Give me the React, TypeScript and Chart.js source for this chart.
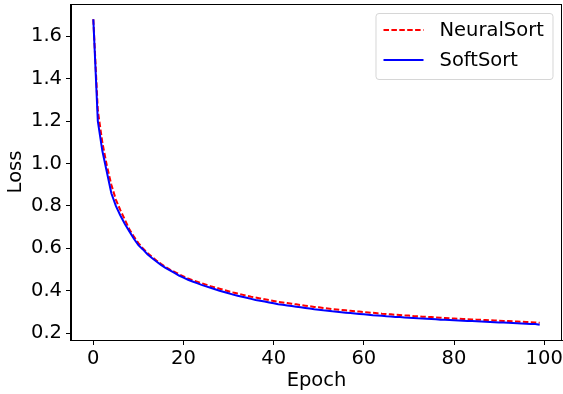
import React, { useEffect, useRef } from 'react';
import { Chart, registerables } from 'chart.js';

Chart.register(...registerables);

const epochs: number[] = Array.from({ length: 100 }, (_, i) => i);

const neuralSort: number[] = [
  1.68, 1.25, 1.10, 0.99, 0.90, 0.83, 0.78, 0.735, 0.69, 0.655,
  0.625, 0.600, 0.578, 0.560, 0.543, 0.527, 0.513, 0.500, 0.489, 0.478,
  0.468, 0.458, 0.450, 0.443, 0.436, 0.429, 0.422, 0.416, 0.410, 0.404,
  0.398, 0.392, 0.387, 0.382, 0.377, 0.372, 0.368, 0.364, 0.360, 0.356,
  0.352, 0.348, 0.345, 0.342, 0.339, 0.336, 0.333, 0.330, 0.327, 0.324,
  0.322, 0.319, 0.317, 0.314, 0.312, 0.310, 0.308, 0.306, 0.304, 0.302,
  0.300, 0.298, 0.296, 0.294, 0.292, 0.291, 0.289, 0.287, 0.286, 0.284,
  0.283, 0.281, 0.280, 0.278, 0.277, 0.276, 0.274, 0.273, 0.272, 0.270,
  0.269, 0.268, 0.267, 0.266, 0.265, 0.264, 0.263, 0.262, 0.261, 0.260,
  0.259, 0.258, 0.257, 0.256, 0.255, 0.254, 0.253, 0.252, 0.251, 0.249,
];

const softSort: number[] = [
  1.68, 1.20, 1.06, 0.96, 0.86, 0.80, 0.755, 0.715, 0.68, 0.645,
  0.615, 0.595, 0.572, 0.555, 0.538, 0.522, 0.508, 0.496, 0.484, 0.472,
  0.462, 0.452, 0.444, 0.436, 0.428, 0.421, 0.414, 0.407, 0.400, 0.394,
  0.388, 0.382, 0.377, 0.372, 0.367, 0.362, 0.357, 0.353, 0.349, 0.345,
  0.341, 0.337, 0.334, 0.331, 0.328, 0.325, 0.322, 0.319, 0.316, 0.313,
  0.311, 0.308, 0.306, 0.303, 0.301, 0.299, 0.297, 0.295, 0.293, 0.291,
  0.289, 0.287, 0.285, 0.284, 0.282, 0.280, 0.279, 0.277, 0.276, 0.274,
  0.273, 0.272, 0.270, 0.269, 0.268, 0.267, 0.266, 0.264, 0.263, 0.262,
  0.261, 0.260, 0.259, 0.258, 0.257, 0.256, 0.255, 0.254, 0.253, 0.252,
  0.251, 0.250, 0.249, 0.248, 0.247, 0.246, 0.245, 0.244, 0.243, 0.240,
];

const xTicks: number[] = [0, 20, 40, 60, 80, 100];
const yTicks: number[] = [0.2, 0.4, 0.6, 0.8, 1.0, 1.2, 1.4, 1.6];

const FONT = '"DejaVu Sans", "Liberation Sans", sans-serif';
const FSIZE = 19.5;

const framePlugin = {
  id: 'mplFrame',
  afterDatasetsDraw(chart: any) {
    const { ctx, chartArea } = chart;
    ctx.save();
    ctx.strokeStyle = '#000';
    ctx.lineWidth = 1;
    ctx.strokeRect(
      Math.round(chartArea.left) - 0.5,
      Math.round(chartArea.top) + 0.5,
      Math.round(chartArea.right - chartArea.left),
      Math.round(chartArea.bottom - chartArea.top)
    );
    ctx.restore();
  },
};

const legendPlugin = {
  id: 'mplLegend',
  afterDraw(chart: any) {
    const { ctx, chartArea } = chart;
    const w = 177;
    const h = 66;
    const x = chartArea.right - 9 - w;
    const y = chartArea.top + 9.5;
    ctx.save();
    ctx.beginPath();
    const r = 3;
    ctx.moveTo(x + r, y);
    ctx.lineTo(x + w - r, y);
    ctx.quadraticCurveTo(x + w, y, x + w, y + r);
    ctx.lineTo(x + w, y + h - r);
    ctx.quadraticCurveTo(x + w, y + h, x + w - r, y + h);
    ctx.lineTo(x + r, y + h);
    ctx.quadraticCurveTo(x, y + h, x, y + h - r);
    ctx.lineTo(x, y + r);
    ctx.quadraticCurveTo(x, y, x + r, y);
    ctx.closePath();
    ctx.fillStyle = 'rgba(255,255,255,0.8)';
    ctx.fill();
    ctx.strokeStyle = 'rgba(204,204,204,0.8)';
    ctx.lineWidth = 1;
    ctx.stroke();
    chart.data.datasets.forEach((ds: any, i: number) => {
      const cy = y + 16.5 + i * 30;
      ctx.beginPath();
      ctx.strokeStyle = ds.borderColor;
      ctx.lineWidth = ds.borderWidth;
      ctx.setLineDash(ds.borderDash || []);
      ctx.moveTo(x + 7.5, cy);
      ctx.lineTo(x + 47.5, cy);
      ctx.stroke();
      ctx.setLineDash([]);
      ctx.fillStyle = '#000';
      ctx.font = `${FSIZE}px ${FONT}`;
      ctx.textBaseline = 'middle';
      ctx.textAlign = 'left';
      ctx.fillText(ds.label, x + 63.5, cy + 1);
    });
    ctx.restore();
  },
};

export default function App() {
  const canvasRef = useRef<HTMLCanvasElement | null>(null);

  useEffect(() => {
    if (!canvasRef.current) return;
    const chart = new Chart(canvasRef.current, {
      type: 'line',
      data: {
        datasets: [
          {
            label: 'NeuralSort',
            data: epochs.map((e, i) => ({ x: e, y: neuralSort[i] })),
            borderColor: '#ff0000',
            backgroundColor: '#ff0000',
            borderWidth: 2,
            borderDash: [5.5, 2.4],
            pointRadius: 0,
            tension: 0,
            order: 2,
          },
          {
            label: 'SoftSort',
            data: epochs.map((e, i) => ({ x: e, y: softSort[i] })),
            borderColor: '#0000ff',
            backgroundColor: '#0000ff',
            borderWidth: 2,
            pointRadius: 0,
            tension: 0,
            order: 1,
          },
        ],
      },
      options: {
        animation: false,
        responsive: true,
        maintainAspectRatio: false,
        layout: { padding: { top: 4, right: 1, left: 0, bottom: 0 } },
        plugins: {
          legend: { display: false },
          tooltip: { enabled: false },
        },
        scales: {
          x: {
            type: 'linear',
            min: -4.95,
            max: 103.95,
            afterBuildTicks: (scale: any) => {
              scale.ticks = xTicks.map((v) => ({ value: v }));
            },
            afterFit: (scale: any) => {
              scale.height = 54;
              scale.paddingLeft = 0;
              scale.paddingRight = 0;
            },
            grid: {
              display: true,
              drawOnChartArea: false,
              drawTicks: true,
              tickLength: 5,
              color: '#000',
              lineWidth: 1,
            },
            border: { display: true, color: '#000', width: 1 },
            ticks: {
              color: '#000',
              font: { family: FONT, size: FSIZE },
              padding: 2,
              maxRotation: 0,
              autoSkip: false,
            },
            title: {
              display: true,
              text: 'Epoch',
              color: '#000',
              font: { family: FONT, size: FSIZE },
              padding: { top: 0, bottom: 1 },
            },
          },
          y: {
            type: 'linear',
            min: 0.168,
            max: 1.752,
            afterBuildTicks: (scale: any) => {
              scale.ticks = yTicks.map((v) => ({ value: v }));
            },
            afterFit: (scale: any) => {
              scale.width = 71;
              scale.paddingTop = 0;
              scale.paddingBottom = 0;
            },
            grid: {
              display: true,
              drawOnChartArea: false,
              drawTicks: true,
              tickLength: 5,
              color: '#000',
              lineWidth: 1,
            },
            border: { display: true, color: '#000', width: 1 },
            ticks: {
              color: '#000',
              font: { family: FONT, size: FSIZE },
              padding: 4,
              autoSkip: false,
              callback: (v: any) => Number(v).toFixed(1),
            },
            title: {
              display: true,
              text: 'Loss',
              color: '#000',
              font: { family: FONT, size: FSIZE },
              padding: { top: 4, bottom: 0 },
            },
          },
        },
      },
      plugins: [framePlugin, legendPlugin],
    });
    return () => chart.destroy();
  }, []);

  return (
    <div style={{ position: 'fixed', left: 0, top: 0, width: 563, height: 394, background: '#fff' }}>
      <canvas ref={canvasRef} width={563} height={394} />
    </div>
  );
}
